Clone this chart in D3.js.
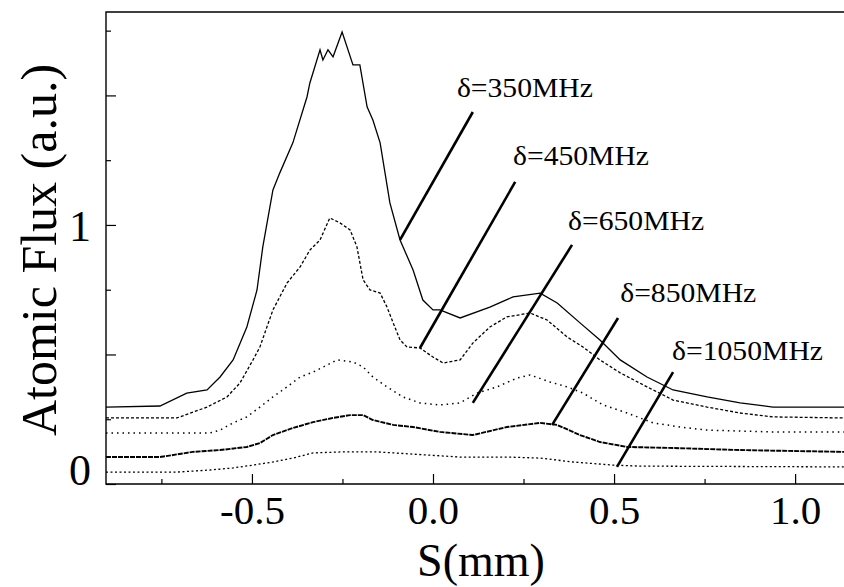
<!DOCTYPE html>
<html>
<head>
<meta charset="utf-8">
<script src="https://d3js.org/d3.v7.min.js"></script>
<style>
  body { margin: 0; background: #fff; }
  svg text { font-family: "Liberation Serif", "Times New Roman", serif; fill: #000; }
  .axis path { display: none; }
  .axis line { stroke: #000; stroke-width: 1.2; }
</style>
</head>
<body>
<script>
  // detuning of each trace (MHz)
  var detunings = ["350", "450", "650", "850", "1050"];

  // S (mm) and flux (a.u.), one pair of arrays per trace
  var pos350  = [-0.903, -0.754, -0.680, -0.624, -0.588, -0.552, -0.514, -0.486, -0.470, -0.442, -0.423, -0.387, -0.348, -0.340, -0.312, -0.304, -0.290, -0.276, -0.251, -0.221, -0.202, -0.182, -0.166, -0.146, -0.119, -0.091, -0.055, -0.028, 0.000, 0.019, 0.075, 0.157, 0.221, 0.296, 0.343, 0.406, 0.461, 0.517, 0.591, 0.663, 0.757, 0.848, 0.939, 1.135];
  var flux350 = [0.297, 0.301, 0.351, 0.363, 0.413, 0.479, 0.606, 0.749, 0.915, 1.135, 1.201, 1.317, 1.494, 1.548, 1.676, 1.637, 1.676, 1.649, 1.745, 1.618, 1.618, 1.456, 1.405, 1.317, 1.085, 0.942, 0.826, 0.710, 0.672, 0.672, 0.641, 0.683, 0.722, 0.737, 0.699, 0.622, 0.556, 0.479, 0.413, 0.363, 0.336, 0.313, 0.297, 0.297];

  var pos450  = [-0.903, -0.707, -0.624, -0.569, -0.533, -0.497, -0.478, -0.442, -0.403, -0.367, -0.340, -0.312, -0.285, -0.257, -0.229, -0.210, -0.193, -0.174, -0.146, -0.127, -0.110, -0.091, -0.072, -0.036, 0.000, 0.028, 0.075, 0.110, 0.157, 0.204, 0.268, 0.315, 0.370, 0.414, 0.461, 0.517, 0.591, 0.663, 0.757, 0.848, 0.939, 1.135];
  var flux450 = [0.255, 0.255, 0.297, 0.336, 0.390, 0.479, 0.529, 0.672, 0.776, 0.838, 0.903, 0.942, 1.027, 1.008, 0.981, 0.915, 0.788, 0.749, 0.737, 0.683, 0.622, 0.556, 0.529, 0.525, 0.490, 0.467, 0.479, 0.544, 0.606, 0.645, 0.660, 0.633, 0.568, 0.529, 0.479, 0.429, 0.375, 0.324, 0.297, 0.274, 0.259, 0.255];

  var pos650  = [-0.903, -0.616, -0.588, -0.552, -0.514, -0.478, -0.442, -0.403, -0.367, -0.331, -0.293, -0.265, -0.221, -0.193, -0.166, -0.127, -0.083, -0.036, 0.019, 0.075, 0.122, 0.177, 0.232, 0.268, 0.323, 0.370, 0.414, 0.470, 0.536, 0.608, 0.682, 0.757, 0.939, 1.135];
  var flux650 = [0.197, 0.197, 0.208, 0.236, 0.259, 0.297, 0.336, 0.375, 0.413, 0.432, 0.459, 0.479, 0.471, 0.452, 0.413, 0.375, 0.336, 0.313, 0.305, 0.313, 0.351, 0.375, 0.409, 0.421, 0.394, 0.375, 0.351, 0.305, 0.274, 0.236, 0.220, 0.208, 0.201, 0.201];

  var pos850  = [-0.903, -0.754, -0.663, -0.588, -0.514, -0.478, -0.442, -0.387, -0.331, -0.276, -0.229, -0.193, -0.166, -0.110, -0.055, 0.019, 0.110, 0.204, 0.296, 0.343, 0.406, 0.461, 0.536, 0.663, 0.848, 1.135];
  var flux850 = [0.104, 0.104, 0.124, 0.131, 0.143, 0.158, 0.189, 0.216, 0.239, 0.255, 0.266, 0.266, 0.247, 0.228, 0.220, 0.201, 0.189, 0.220, 0.236, 0.228, 0.189, 0.162, 0.143, 0.139, 0.131, 0.124];

  var pos1050  = [-0.903, -0.707, -0.616, -0.552, -0.497, -0.442, -0.387, -0.331, -0.249, -0.155, -0.017, 0.075, 0.204, 0.296, 0.387, 0.497, 0.572, 1.135];
  var flux1050 = [0.046, 0.046, 0.054, 0.062, 0.073, 0.085, 0.100, 0.120, 0.124, 0.124, 0.112, 0.104, 0.104, 0.100, 0.085, 0.073, 0.069, 0.066];

  // label anchor (S, flux) and leader line ends, in data units
  var labelPos   = [[0.066, 1.494], [0.221, 1.232], [0.373, 0.981], [0.517, 0.703], [0.660, 0.479]];
  var leaderFrom = [[0.110, 1.436], [0.227, 1.166], [0.384, 0.923], [0.511, 0.641], [0.663, 0.432]];
  var leaderTo   = [[-0.091, 0.942], [-0.036, 0.525], [0.110, 0.313], [0.329, 0.228], [0.508, 0.066]];

  var xMajor = [-0.5, 0.0, 0.5, 1.0];
  var xMinor = [-0.75, -0.25, 0.25, 0.75];
  var yMajor = [0, 0.5, 1, 1.5];
  var yMinor = [0.25, 0.75, 1.25, 1.75];
  var yLabelled = [0, 1];

  var traces = [
    {pos: pos350, flux: flux350, width: 1.3, dash: null},
    {pos: pos450, flux: flux450, width: 1.3, dash: "3,2"},
    {pos: pos650, flux: flux650, width: 1.5, dash: "1.5,4"},
    {pos: pos850, flux: flux850, width: 1.9, dash: "5,1"},
    {pos: pos1050, flux: flux1050, width: 1.3, dash: "2,2.5"}
  ];

  var W = 844, H = 587;
  var mLeft = 106, mRight = 844, mTop = 12, mBottom = 484;

  var svg = d3.select("body").append("svg")
    .attr("width", W)
    .attr("height", H);

  var x = d3.scaleLinear().domain([-0.903, 1.135]).range([mLeft, mRight]);
  var y = d3.scaleLinear().domain([0, 1.822]).range([mBottom, mTop]);

  // frame, right side runs off the page like the scan
  svg.append("path")
    .attr("d", "M" + (mRight + 10) + "," + mTop + "H" + mLeft + "V" + mBottom + "H" + (mRight + 10))
    .attr("fill", "none")
    .attr("stroke", "#000")
    .attr("stroke-width", 1.4);

  var fmt = function(d) { return d.toFixed(1); };

  svg.append("g")
    .attr("class", "axis")
    .attr("transform", "translate(0," + mBottom + ")")
    .call(d3.axisBottom(x).tickValues(xMajor).tickFormat(fmt).tickSizeInner(-10).tickSizeOuter(0).tickPadding(11))
    .selectAll("text")
    .attr("font-size", 41);

  svg.append("g")
    .attr("class", "axis")
    .attr("transform", "translate(0," + mBottom + ")")
    .call(d3.axisBottom(x).tickValues(xMinor).tickFormat("").tickSizeInner(-5).tickSizeOuter(0));

  var yAx = svg.append("g")
    .attr("class", "axis")
    .attr("transform", "translate(" + mLeft + ",0)")
    .call(d3.axisLeft(y).tickValues(yMajor)
      .tickFormat(function(d) { return yLabelled.indexOf(d) >= 0 ? d : ""; })
      .tickSizeInner(-10).tickSizeOuter(0).tickPadding(15));
  yAx.selectAll("text")
    .attr("font-size", 44)
    .attr("dy", function(d) { return d === 0 ? "0.0em" : "0.35em"; });

  svg.append("g")
    .attr("class", "axis")
    .attr("transform", "translate(" + mLeft + ",0)")
    .call(d3.axisLeft(y).tickValues(yMinor).tickFormat("").tickSizeInner(-5).tickSizeOuter(0));

  // traces
  var line = d3.line()
    .x(function(d) { return x(d[0]); })
    .y(function(d) { return y(d[1]); });

  svg.selectAll("path.trace")
    .data(traces)
    .enter()
    .append("path")
    .attr("class", "trace")
    .attr("d", function(t) { return line(d3.zip(t.pos, t.flux)); })
    .attr("fill", "none")
    .attr("stroke", "#000")
    .attr("stroke-width", function(t) { return t.width; })
    .attr("stroke-dasharray", function(t) { return t.dash; });

  // leader lines and labels
  svg.selectAll("line.leader")
    .data(detunings)
    .enter()
    .append("line")
    .attr("class", "leader")
    .attr("x1", function(d, i) { return x(leaderFrom[i][0]); })
    .attr("y1", function(d, i) { return y(leaderFrom[i][1]); })
    .attr("x2", function(d, i) { return x(leaderTo[i][0]); })
    .attr("y2", function(d, i) { return y(leaderTo[i][1]); })
    .attr("stroke", "#000")
    .attr("stroke-width", 2.6);

  svg.selectAll("text.lab")
    .data(detunings)
    .enter()
    .append("text")
    .attr("class", "lab")
    .attr("x", function(d, i) { return x(labelPos[i][0]); })
    .attr("y", function(d, i) { return y(labelPos[i][1]); })
    .attr("font-size", 27)
    .attr("textLength", function(d) { return d.length > 3 ? 151 : 136; })
    .attr("lengthAdjust", "spacingAndGlyphs")
    .text(function(d) { return "\u03B4=" + d + "MHz"; });

  // axis titles
  svg.append("text")
    .attr("x", (mLeft + mRight) / 2 + 6)
    .attr("y", 576)
    .attr("text-anchor", "middle")
    .attr("font-size", 46)
    .text("S(mm)");

  svg.append("text")
    .attr("transform", "translate(56," + 250 + ") rotate(-90)")
    .attr("text-anchor", "middle")
    .attr("font-size", 50)
    .text("Atomic Flux (a.u.)");
</script>
</body>
</html>
